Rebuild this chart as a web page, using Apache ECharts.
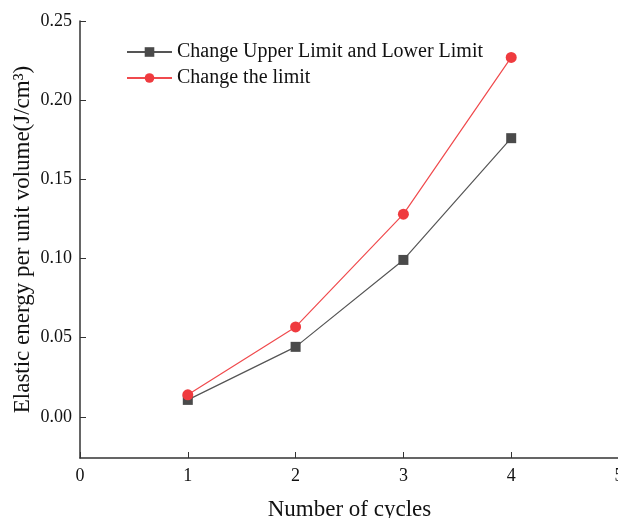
<!DOCTYPE html>
<html>
<head>
<meta charset="utf-8">
<script src="https://cdn.jsdelivr.net/npm/echarts@6/dist/echarts.min.js"></script>
<style>
  html, body { margin: 0; padding: 0; background: #fff; }
</style>
</head>
<body>
<div id="chart" style="width: 618px;height:518px;"></div>

<script type="text/javascript">
	// data
	var cycles = [1, 2, 3, 4];
	var upperLowerLimit = [0.0107, 0.0442, 0.0991, 0.1760];
	var changeLimit = [0.0139, 0.0568, 0.1280, 0.2270];
	var yTicks = [0, 0.05, 0.10, 0.15, 0.20, 0.25];
	var xTicks = [0, 1, 2, 3, 4, 5];

	function pairs(xs, ys) {
		return xs.map(function (x, i) { return [x, ys[i]]; });
	}

	var font = '"Liberation Serif", "Times New Roman", serif';
	var axisColor = '#333';

	var chart = echarts.init(document.getElementById('chart'));
	chart.setOption({
		animation: false,
		textStyle: { fontFamily: font },
		grid: { left: 80, right: -1, top: 21, bottom: 60, containLabel: false, outerBoundsMode: 'none' },
		legend: {
			orient: 'vertical',
			left: 121,
			top: 37,
			itemWidth: 45,
			itemHeight: 12,
			itemGap: 6,
			textStyle: { fontFamily: font, fontSize: 20, color: '#111' },
			data: ['Change Upper Limit and Lower Limit', 'Change the limit']
		},
		xAxis: {
			type: 'value',
			min: 0,
			max: 5,
			interval: 1,
			name: 'Number of cycles',
			nameLocation: 'middle',
			nameGap: 40,
			nameMoveOverlap: false,
			nameTextStyle: { fontFamily: font, fontSize: 23, color: '#111' },
			splitLine: { show: false },
			axisLine: { show: true, onZero: false, lineStyle: { color: axisColor, width: 1.5 } },
			axisTick: { show: true, inside: true, length: 6, lineStyle: { color: axisColor } },
			axisLabel: {
				fontFamily: font, fontSize: 18, color: '#111', margin: 9,
				showMaxLabel: true,
				customValues: xTicks
			}
		},
		yAxis: {
			type: 'value',
			min: -0.026,
			max: 0.25,
			name: 'Elastic energy per unit volume(J/cm³)',
			nameLocation: 'middle',
			nameGap: 46,
			nameMoveOverlap: false,
			nameTextStyle: { fontFamily: font, fontSize: 23, color: '#111' },
			splitLine: { show: false },
			axisLine: { show: true, onZero: false, lineStyle: { color: axisColor, width: 1.5 } },
			axisTick: { show: true, inside: true, length: 6, lineStyle: { color: axisColor }, customValues: yTicks },
			axisLabel: {
				fontFamily: font, fontSize: 18, color: '#111', margin: 8,
				customValues: yTicks,
				formatter: function (v) { return v.toFixed(2); }
			}
		},
		series: [{
			name: 'Change Upper Limit and Lower Limit',
			type: 'line',
			data: pairs(cycles, upperLowerLimit),
			symbol: 'rect',
			symbolSize: 10,
			itemStyle: { color: '#4a4a4a' },
			lineStyle: { color: '#555', width: 1.2 }
		}, {
			name: 'Change the limit',
			type: 'line',
			data: pairs(cycles, changeLimit),
			symbol: 'circle',
			symbolSize: 11,
			itemStyle: { color: '#ef3b3f' },
			lineStyle: { color: '#f04a4d', width: 1.2 }
		}]
	});
</script>
</body>
</html>
